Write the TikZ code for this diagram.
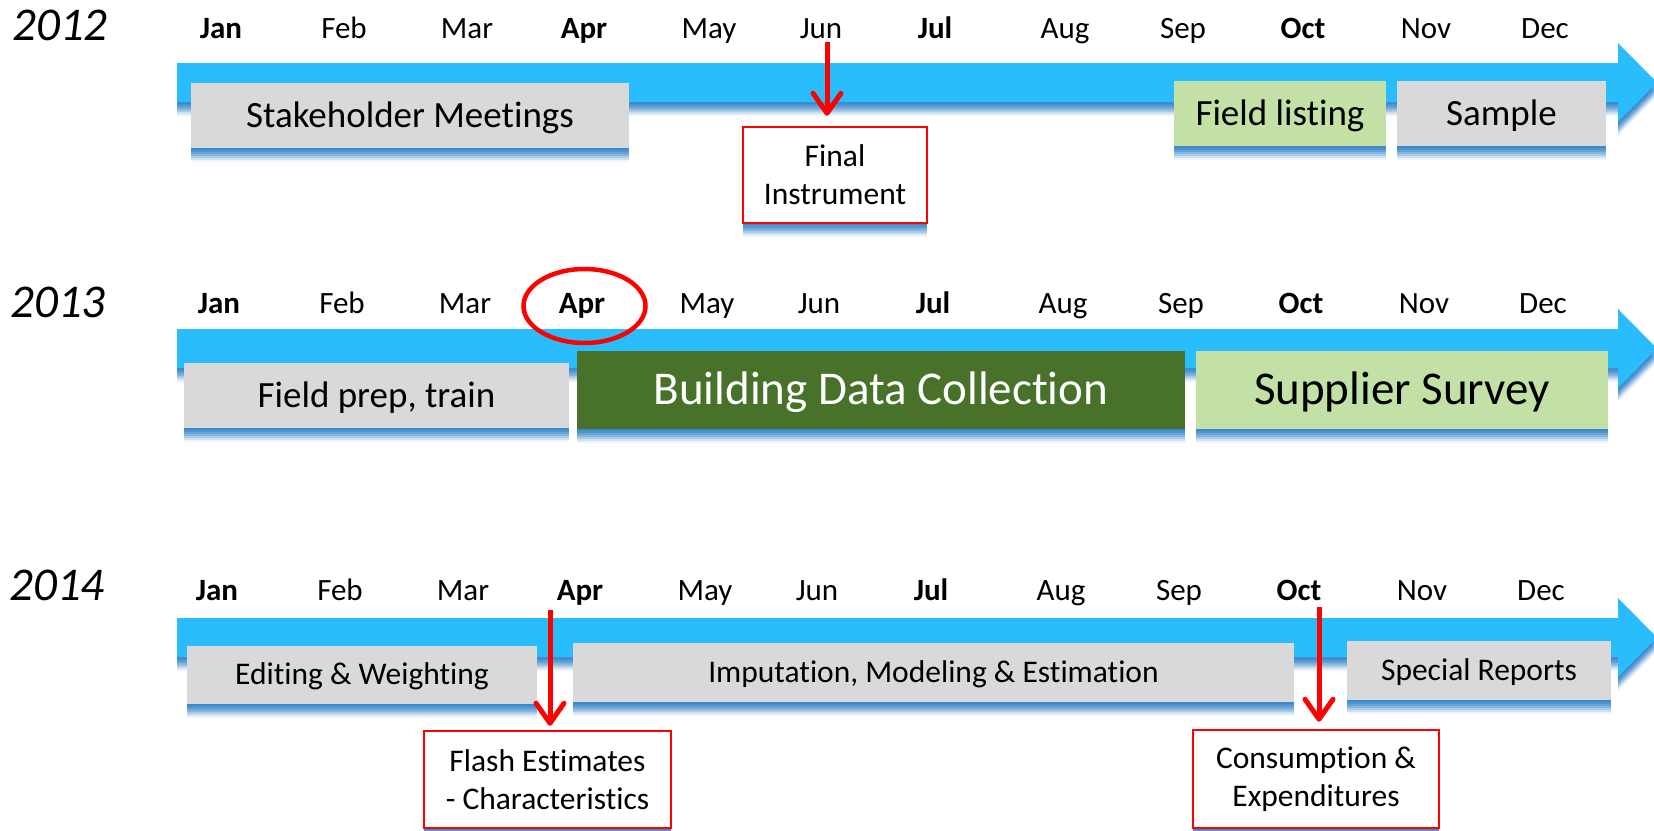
\documentclass[tikz,border=0pt]{standalone}
\usepackage{fontspec}
\setmainfont[Ligatures=NoCommon]{Carlito}
\usetikzlibrary{arrows.meta,shapes.geometric}
\definecolor{bandblue}{HTML}{2ABDFE}
\definecolor{shblue}{HTML}{0066BC}
\definecolor{boxgray}{HTML}{D9D9D9}
\definecolor{lgreen}{HTML}{C3E0A6}
\definecolor{dgreen}{HTML}{48722A}
\definecolor{mred}{HTML}{FF0000}
\tikzset{
  softsh/.style={
    preaction={draw=none,fill=shblue,fill opacity=0.22,transform canvas={yshift=-2pt}},
    preaction={draw=none,fill=shblue,fill opacity=0.22,transform canvas={yshift=-4pt}},
    preaction={draw=none,fill=shblue,fill opacity=0.22,transform canvas={yshift=-6pt}},
    preaction={draw=none,fill=shblue,fill opacity=0.22,transform canvas={yshift=-8pt}},
    preaction={draw=none,fill=shblue,fill opacity=0.18,transform canvas={yshift=-10pt}},
    preaction={draw=none,fill=shblue,fill opacity=0.12,transform canvas={yshift=-12pt}},
    preaction={draw=none,fill=shblue,fill opacity=0.07,transform canvas={yshift=-14pt}}},
  month/.style={anchor=base,inner sep=0pt,font=\fontsize{31}{37}\selectfont},
  qmonth/.style={anchor=base,inner sep=0pt,font=\fontsize{31}{37}\selectfont\bfseries},
  yearlab/.style={anchor=base,inner sep=0pt,font=\fontsize{47}{56}\selectfont\itshape},
  taskbox/.style={softsh,rectangle,inner sep=0pt,draw=none},
  txtbig/.style={font=\fontsize{37}{44}\selectfont,text height=23.4pt,text depth=0pt},
  txthuge/.style={font=\fontsize{47}{56}\selectfont,text height=29.7pt,text depth=0pt},
  txtsmall/.style={font=\fontsize{31.5}{38}\selectfont,text height=19.9pt,text depth=0pt},
  milebox/.style={softsh,rectangle,inner sep=0pt,fill=white,draw=mred,line width=2.5pt,
    align=center,font=\fontsize{31.5}{38}\selectfont},
  redarr/.style={draw=mred,line width=5pt,-{Straight Barb[length=20pt,width=28pt,round]}},
}
\begin{document}
\begin{tikzpicture}[x=1pt,y=-1pt]
\useasboundingbox (0,0) rectangle (1654,830);
\fill[white] (0,0) rectangle (1654,830);

% ---------- bands ----------
\foreach \dy in {0,266,555}{
  \fill[bandblue,softsh] (177,63+\dy) -- (1618,63+\dy) -- (1618,43+\dy) -- (1657,82.5+\dy)
    -- (1618,122+\dy) -- (1618,102+\dy) -- (177,102+\dy) -- cycle;
}

% ---------- years ----------
\node[yearlab] (y12) at (60,40) {2012};
\node[yearlab] (y13) at (58,317) {2013};
\node[yearlab] (y14) at (57,600) {2014};

% ---------- months ----------
\foreach \m/\x/\s [count=\i] in {Jan/221/qmonth,Feb/344/month,Mar/467/month,Apr/584/qmonth,
  May/709/month,Jun/821/month,Jul/935/qmonth,Aug/1065/month,Sep/1183/month,Oct/1303/qmonth,
  Nov/1426/month,Dec/1545/month}{
  \node[\s] (ma\i) at (\x,38) {\m};
  \node[\s] (mb\i) at (\x-2,313) {\m};
  \node[\s] (mc\i) at (\x-4,600) {\m};
}

% ---------- 2012 ----------
\node[taskbox,fill=boxgray,txtbig,minimum width=438pt,minimum height=65pt] (sm) at (410,115.5) {Stakeholder Meetings};
\node[taskbox,fill=lgreen,txtbig,minimum width=212pt,minimum height=65pt] (fl) at (1280,113.5) {Field listing};
\node[taskbox,fill=boxgray,txtbig,minimum width=209pt,minimum height=65pt] (sa) at (1501.5,113.5) {Sample};
\node[milebox,minimum width=184pt,minimum height=96pt] (fi) at (835,175) {Final\\Instrument};

% ---------- 2013 ----------
\node[draw=mred,line width=4.5pt,ellipse,minimum width=122pt,minimum height=74pt,inner sep=0pt] (ring) at (584.5,306) {};
\node[taskbox,fill=boxgray,txtbig,minimum width=385pt,minimum height=65pt] (fp) at (376.5,395.5) {Field prep, train};
\node[taskbox,fill=dgreen,text=white,txthuge,minimum width=608pt,minimum height=78pt] (bd) at (881,390) {Building Data Collection};
\node[taskbox,fill=lgreen,txthuge,minimum width=412pt,minimum height=78pt] (ss) at (1402,390) {Supplier Survey};

% ---------- 2014 ----------
\node[taskbox,fill=boxgray,txtsmall,minimum width=350pt,minimum height=58pt] (ew) at (362,675) {Editing \& Weighting};
\node[taskbox,fill=boxgray,txtsmall,minimum width=721pt,minimum height=59pt] (im) at (933.5,672.5) {Imputation, Modeling \& Estimation};
\node[taskbox,fill=boxgray,txtsmall,minimum width=264pt,minimum height=59pt] (sr) at (1479,670.5) {Special Reports};
\node[milebox,minimum width=247pt,minimum height=97pt] (fe) at (547.5,779.5) {Flash Estimates\\- Characteristics};
\node[milebox,minimum width=246pt,minimum height=98pt] (ce) at (1316,779) {Consumption \&\\Expenditures};

% ---------- red arrows ----------
\coordinate (a1) at (827,42);
\coordinate (a2) at (550,610);
\coordinate (a3) at (1319,607);
\draw[redarr,shorten >=10pt] (a1) -- (a1 |- fi.north);
\draw[redarr,shorten >=4pt] (a2) -- (a2 |- fe.north);
\draw[redarr,shorten >=7pt] (a3) -- (a3 |- ce.north);
\end{tikzpicture}
\end{document}
